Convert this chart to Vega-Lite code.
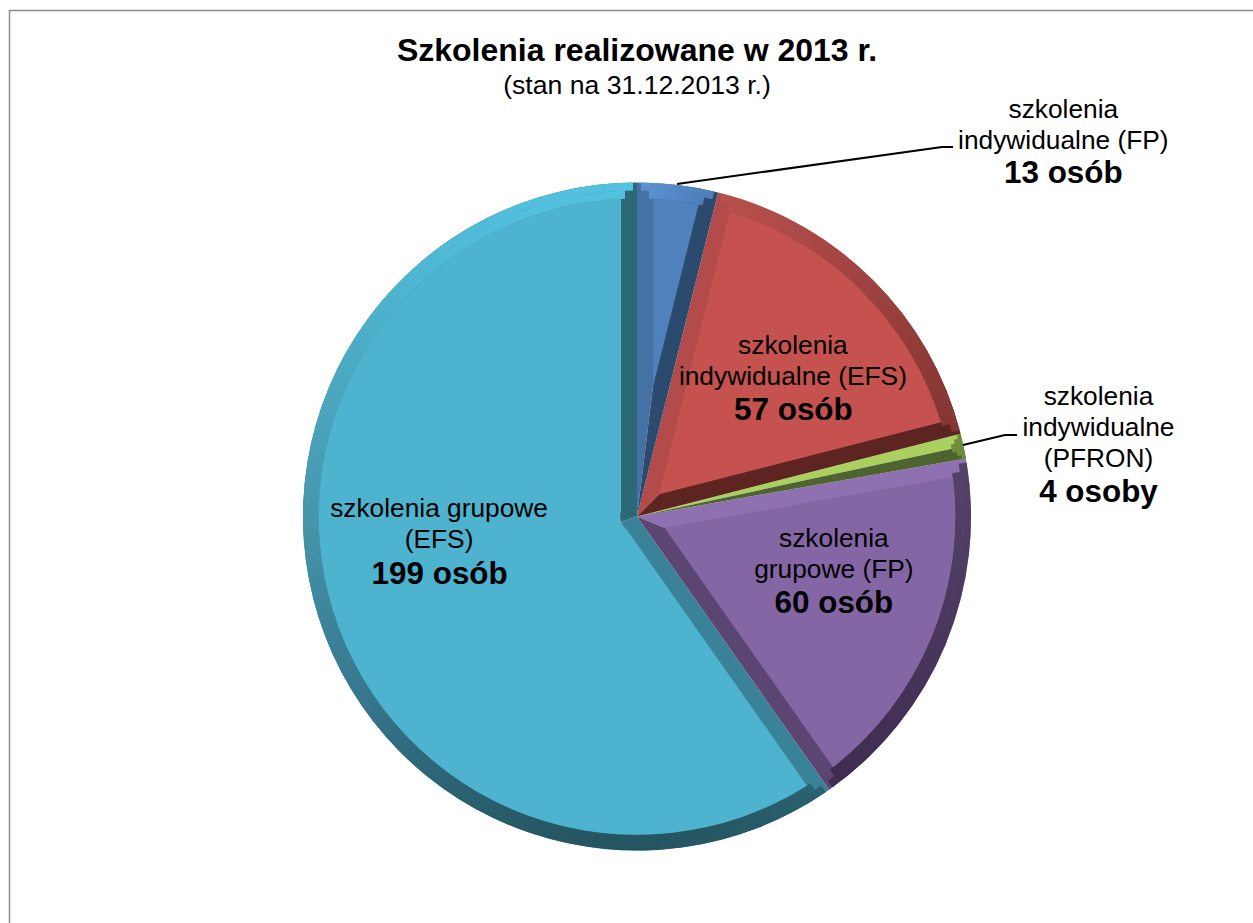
{
"$schema":"https://vega.github.io/schema/vega-lite/v6.json",
"width":1255,"height":1012,
"autosize":{"type":"none"},
"padding":{"left":9.5,"top":10.5,"right":0,"bottom":0},
"background":"white",
"config":{"view":{"stroke":"#8c8c8c","strokeWidth":1.5},"font":"Liberation Sans"},
"title":{"text":"Szkolenia realizowane w 2013 r.","subtitle":"(stan na 31.12.2013 r.)","anchor":"middle","font":"Liberation Sans","fontSize":32,"fontWeight":"bold","color":"black","subtitleFont":"Liberation Sans","subtitleFontSize":26.6,"subtitleColor":"black","subtitlePadding":5,"offset":-90},
"data":{"values":[
{"cat":"ind_FP","order":1,"value":13},
{"cat":"ind_EFS","order":2,"value":57},
{"cat":"ind_PFRON","order":3,"value":4},
{"cat":"gr_FP","order":4,"value":60},
{"cat":"gr_EFS","order":5,"value":199}
]},
"transform":[
{"stack":"value","sort":[{"field":"order"}],"as":["t0","t1"]},
{"calculate":"(datum.t0+datum.t1)/2","as":"mid"}
],
"resolve":{"scale":{"color":"independent"}},
"layer":[
{"mark":{"type":"arc","outerRadius":334},
 "encoding":{"theta":{"field":"t0","type":"quantitative","stack":null,"scale":{"domain":[0,333]}},"theta2":{"field":"mid"},
 "color":{"field":"cat","type":"nominal","legend":null,"scale":{"domain":["ind_FP","ind_EFS","ind_PFRON","gr_FP","gr_EFS"],"range":["#4472A4","#B24B49","#AAD15F","#8F70B0","#3A8298"]}}}},
{"mark":{"type":"arc","outerRadius":334},
 "encoding":{"theta":{"field":"mid","type":"quantitative","stack":null,"scale":{"domain":[0,333]}},"theta2":{"field":"t1"},
 "color":{"field":"cat","type":"nominal","legend":null,"scale":{"domain":["ind_FP","ind_EFS","ind_PFRON","gr_FP","gr_EFS"],"range":["#2C4A6E","#5E2422","#4F6330","#5B4673","#2D6877"]}}}},
{"encoding":{"theta":{"field":"t0","type":"quantitative","stack":null,"scale":{"domain":[0,333]}},"theta2":{"field":"t1"}},
 "layer":[
 {"transform":[{"filter":"datum.cat=='ind_FP'"}],"mark":{"type":"arc","outerRadius":334,"innerRadius":326,"padAngle":0.0171,"fill":{"gradient":"linear","x1":0,"y1":0,"x2":1,"y2":0.3,"stops":[{"offset":0,"color":"#5A93D3"},{"offset":1,"color":"#4E7FBA"}]}}},
 {"transform":[{"filter":"datum.cat=='ind_FP'"}],"mark":{"type":"arc","outerRadius":326.3,"innerRadius":318,"padAngle":0.0527,"fill":{"gradient":"linear","x1":0,"y1":0,"x2":1,"y2":0.3,"stops":[{"offset":0,"color":"#5A93D3"},{"offset":1,"color":"#4E7FBA"}]}}},
 {"transform":[{"filter":"datum.cat=='ind_EFS'"}],"mark":{"type":"arc","outerRadius":334,"innerRadius":326,"padAngle":0.0171,"fill":{"gradient":"linear","x1":0,"y1":0,"x2":1,"y2":1,"stops":[{"offset":0,"color":"#B8504D"},{"offset":1,"color":"#843532"}]}}},
 {"transform":[{"filter":"datum.cat=='ind_EFS'"}],"mark":{"type":"arc","outerRadius":326.3,"innerRadius":318,"padAngle":0.0527,"fill":{"gradient":"linear","x1":0,"y1":0,"x2":1,"y2":1,"stops":[{"offset":0,"color":"#B8504D"},{"offset":1,"color":"#843532"}]}}},
 {"transform":[{"filter":"datum.cat=='ind_PFRON'"}],"mark":{"type":"arc","outerRadius":334,"innerRadius":330,"fill":"#6E8C3B"}},
 {"transform":[{"filter":"datum.cat=='ind_PFRON'"}],"mark":{"type":"arc","outerRadius":330.3,"innerRadius":326,"padAngle":0.0172,"fill":"#6E8C3B"}},
 {"transform":[{"filter":"datum.cat=='ind_PFRON'"}],"mark":{"type":"arc","outerRadius":326.3,"innerRadius":322,"padAngle":0.035,"fill":"#6E8C3B"}},
 {"transform":[{"filter":"datum.cat=='gr_FP'"}],"mark":{"type":"arc","outerRadius":334,"innerRadius":326,"padAngle":0.0171,"fill":{"gradient":"linear","x1":0,"y1":0,"x2":0,"y2":1,"stops":[{"offset":0,"color":"#544269"},{"offset":1,"color":"#3E2D50"}]}}},
 {"transform":[{"filter":"datum.cat=='gr_FP'"}],"mark":{"type":"arc","outerRadius":326.3,"innerRadius":318,"padAngle":0.0527,"fill":{"gradient":"linear","x1":0,"y1":0,"x2":0,"y2":1,"stops":[{"offset":0,"color":"#544269"},{"offset":1,"color":"#3E2D50"}]}}},
 {"transform":[{"filter":"datum.cat=='gr_EFS'"}],"mark":{"type":"arc","outerRadius":334,"innerRadius":326,"padAngle":0.0171,"fill":{"gradient":"linear","x1":0,"y1":0,"x2":0,"y2":1,"stops":[{"offset":0,"color":"#53C2E0"},{"offset":0.33,"color":"#4AA5BE"},{"offset":0.5,"color":"#4696AC"},{"offset":0.78,"color":"#35768C"},{"offset":1,"color":"#24545F"}]}}},
 {"transform":[{"filter":"datum.cat=='gr_EFS'"}],"mark":{"type":"arc","outerRadius":326.3,"innerRadius":318,"padAngle":0.0527,"fill":{"gradient":"linear","x1":0,"y1":0,"x2":0,"y2":1,"stops":[{"offset":0,"color":"#53C2E0"},{"offset":0.33,"color":"#4AA5BE"},{"offset":0.5,"color":"#4696AC"},{"offset":0.78,"color":"#35768C"},{"offset":1,"color":"#24545F"}]}}},
 {"transform":[{"filter":"datum.cat=='ind_FP'"}],"mark":{"type":"arc","outerRadius":318.3,"innerRadius":131.5,"padAngle":0.093,"fill":"#4F81BD"}},
 {"transform":[{"filter":"datum.cat=='ind_EFS'"}],"mark":{"type":"arc","outerRadius":318.3,"innerRadius":31.5,"padAngle":0.1002,"fill":"#C6524F"}},
 {"transform":[{"filter":"datum.cat=='gr_FP'"}],"mark":{"type":"arc","outerRadius":318.3,"innerRadius":30,"padAngle":0.1002,"fill":"#8566A5"}},
 {"transform":[{"filter":"datum.cat=='gr_EFS'"}],"mark":{"type":"arc","outerRadius":318.3,"innerRadius":16.8,"padAngle":0.1,"fill":"#4EB3CE"}}
 ]},
{"transform":[{"filter":"datum.cat=='ind_FP'"}],"mark":{"type":"rule","stroke":"black","strokeWidth":2},
 "encoding":{"x":{"datum":667.5,"type":"quantitative","axis":null,"scale":{"domain":[0,1255],"nice":false}},"y":{"datum":173.5,"type":"quantitative","axis":null,"scale":{"domain":[0,1012],"reverse":true,"nice":false}},"x2":{"datum":932.5},"y2":{"datum":136.5}}},
{"transform":[{"filter":"datum.cat=='ind_FP'"}],"mark":{"type":"rule","stroke":"black","strokeWidth":2},
 "encoding":{"x":{"datum":932.5,"type":"quantitative","axis":null,"scale":{"domain":[0,1255],"nice":false}},"y":{"datum":136.5,"type":"quantitative","axis":null,"scale":{"domain":[0,1012],"reverse":true,"nice":false}},"x2":{"datum":943.5},"y2":{"datum":136.5}}},
{"transform":[{"filter":"datum.cat=='ind_PFRON'"}],"mark":{"type":"rule","stroke":"black","strokeWidth":2},
 "encoding":{"x":{"datum":953.5,"type":"quantitative","axis":null,"scale":{"domain":[0,1255],"nice":false}},"y":{"datum":434.5,"type":"quantitative","axis":null,"scale":{"domain":[0,1012],"reverse":true,"nice":false}},"x2":{"datum":995.5},"y2":{"datum":424.5}}},
{"transform":[{"filter":"datum.cat=='ind_PFRON'"}],"mark":{"type":"rule","stroke":"black","strokeWidth":2},
 "encoding":{"x":{"datum":995.5,"type":"quantitative","axis":null,"scale":{"domain":[0,1255],"nice":false}},"y":{"datum":424.5,"type":"quantitative","axis":null,"scale":{"domain":[0,1012],"reverse":true,"nice":false}},"x2":{"datum":1007.5},"y2":{"datum":424.5}}},
{"encoding":{"theta":{"field":"mid","type":"quantitative","stack":null,"scale":{"domain":[0,333]}}},
 "layer":[
 {"transform":[{"filter":"datum.cat=='gr_EFS'"}],"mark":{"type":"text","radius":207,"dx":-0.6,"dy":-70,"font":"Liberation Sans","fontSize":26.3,"lineHeight":31,"color":"black"},"encoding":{"text":{"value":["szkolenia grupowe","(EFS)"]}}},
 {"transform":[{"filter":"datum.cat=='gr_EFS'"}],"mark":{"type":"text","radius":207,"dx":0,"dy":-4,"font":"Liberation Sans","fontSize":31.4,"fontWeight":"bold","color":"black"},"encoding":{"text":{"value":"199 osób"}}},
 {"transform":[{"filter":"datum.cat=='ind_EFS'"}],"mark":{"type":"text","radius":221,"dy":-13.4,"font":"Liberation Sans","fontSize":26.3,"lineHeight":31,"color":"black"},"encoding":{"text":{"value":["szkolenia","indywidualne (EFS)"]}}},
 {"transform":[{"filter":"datum.cat=='ind_EFS'"}],"mark":{"type":"text","radius":221,"dy":51,"dx":0.5,"font":"Liberation Sans","fontSize":31.4,"fontWeight":"bold","color":"black"},"encoding":{"text":{"value":"57 osób"}}},
 {"transform":[{"filter":"datum.cat=='gr_FP'"}],"mark":{"type":"text","radius":213,"dy":-59,"font":"Liberation Sans","fontSize":26.3,"lineHeight":31,"color":"black"},"encoding":{"text":{"value":["szkolenia","grupowe (FP)"]}}},
 {"transform":[{"filter":"datum.cat=='gr_FP'"}],"mark":{"type":"text","radius":213,"dy":6,"font":"Liberation Sans","fontSize":31.4,"fontWeight":"bold","color":"black"},"encoding":{"text":{"value":"60 osób"}}},
 {"transform":[{"filter":"datum.cat=='ind_FP'"}],"mark":{"type":"text","radius":395,"dx":378,"dy":-14.5,"font":"Liberation Sans","fontSize":26.3,"lineHeight":31,"color":"black"},"encoding":{"text":{"value":["szkolenia","indywidualne (FP)"]}}},
 {"transform":[{"filter":"datum.cat=='ind_FP'"}],"mark":{"type":"text","radius":395,"dx":378,"dy":50,"font":"Liberation Sans","fontSize":31.4,"fontWeight":"bold","color":"black"},"encoding":{"text":{"value":"13 osób"}}},
 {"transform":[{"filter":"datum.cat=='ind_PFRON'"}],"mark":{"type":"text","radius":470,"dx":2,"dy":-20.5,"font":"Liberation Sans","fontSize":26.3,"lineHeight":31,"color":"black"},"encoding":{"text":{"value":["szkolenia","indywidualne","(PFRON)"]}}},
 {"transform":[{"filter":"datum.cat=='ind_PFRON'"}],"mark":{"type":"text","radius":470,"dx":2,"dy":75.5,"font":"Liberation Sans","fontSize":31.4,"fontWeight":"bold","color":"black"},"encoding":{"text":{"value":"4 osoby"}}}
 ]}
]
}
